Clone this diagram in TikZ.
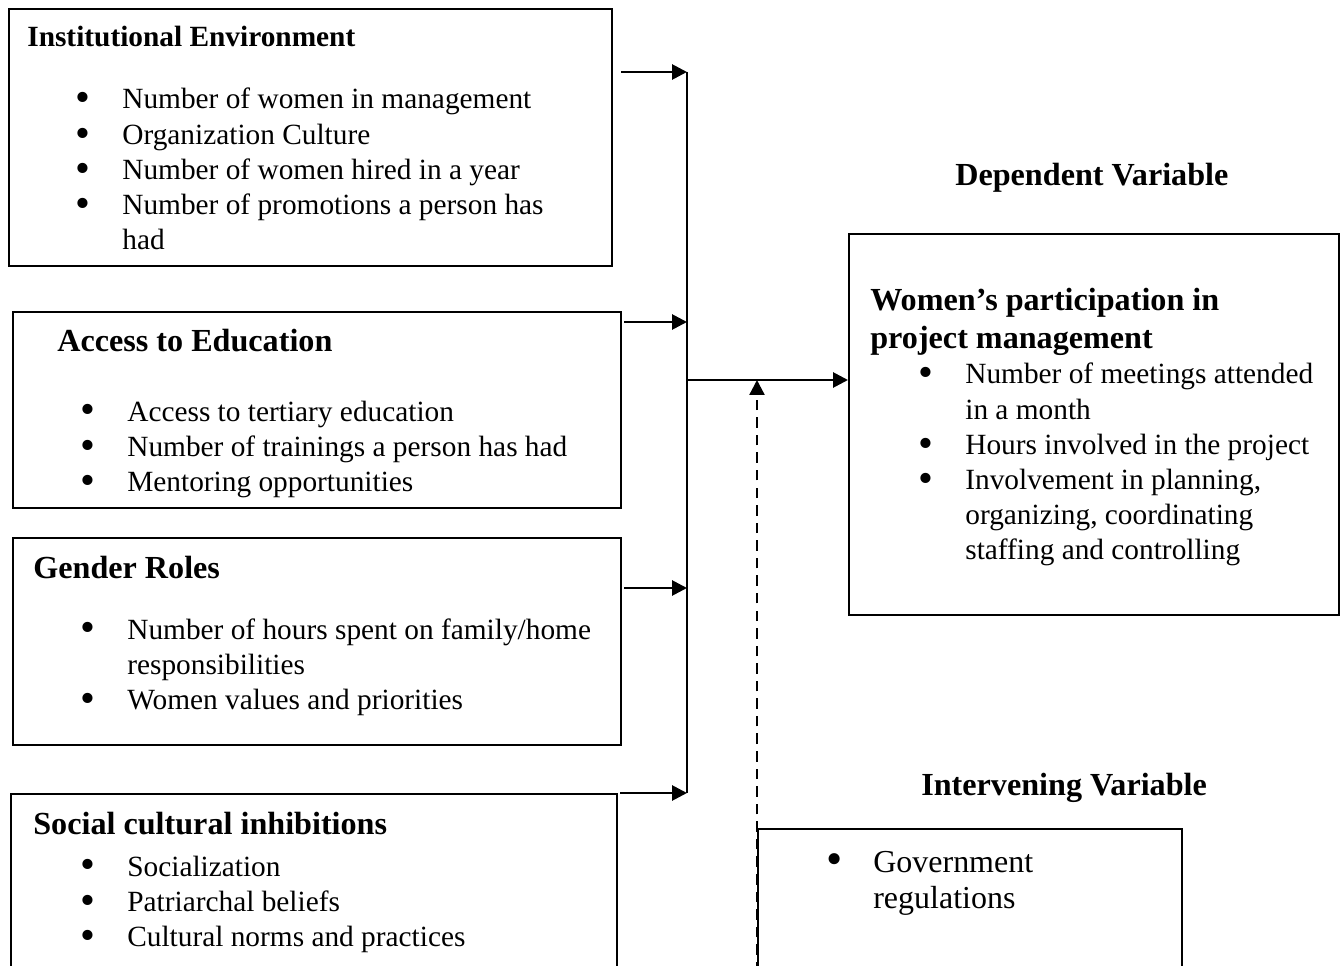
\documentclass[tikz,border=0pt]{standalone}
\usepackage{graphicx}
\usepackage{fontspec}
\setmainfont{Liberation Serif}
\usetikzlibrary{arrows.meta,positioning,calc}

\tikzset{
  box/.style={draw, line width=1.1pt, anchor=north west, inner sep=0pt},
  head/.style={anchor=base west, inner sep=0pt, font=\bfseries\fontsize{18.3}{21.8}\selectfont},
  lst/.style={anchor=base west, inner sep=0pt, font=\fontsize{16.7}{20}\selectfont},
  arr/.style={line width=1.6pt, -{Triangle[length=8.5pt,width=8.5pt]}},
  bus/.style={line width=1.1pt}
}
\newcommand{\bt}{\smash{\raisebox{-1.7pt}{\scalebox{1.45}{\textbullet}}}}

\begin{document}
\begin{tikzpicture}[x=0.02cm, y=-0.02cm]
\path[use as bounding box, clip] (0,0) rectangle (1340,966);
% independent variables
\node[box, minimum width=12.06cm, minimum height=5.14cm] (inst) at (8,8) {};
\node[box, minimum width=12.16cm, minimum height=3.92cm] (educ) at (12,311) {};
\node[box, minimum width=12.16cm, minimum height=4.14cm] (gend) at (12,537) {};
\node[box, minimum width=12.12cm, minimum height=4.5cm] (socl) at (10,793) {};
% dependent and intervening variables
\node[box, minimum width=9.8cm, minimum height=7.62cm] (part) at (848,233) {};
\node[box, minimum width=8.48cm, minimum height=4cm] (govt) at (757,828) {};

\node[head, font=\bfseries\fontsize{16.7}{20}\selectfont] (inst h) at (27,47) {Institutional Environment};
\node[lst] (inst l) at (75,109) {\begin{tabular}[t]{@{}p{0.94cm}@{}l@{}}
\bt & Number of women in management\\
\bt & Organization Culture\\
\bt & Number of women hired in a year\\
\bt & Number of promotions a person has\\
    & had
\end{tabular}};

\node[head] (educ h) at (57,352) {Access to Education};
\node[lst] (educ l) at (80,421) {\begin{tabular}[t]{@{}p{0.94cm}@{}l@{}}
\bt & Access to tertiary education\\
\bt & Number of trainings a person has had\\
\bt & Mentoring opportunities
\end{tabular}};

\node[head] (gend h) at (33,578) {Gender Roles};
\node[lst] (gend l) at (80,639) {\begin{tabular}[t]{@{}p{0.94cm}@{}l@{}}
\bt & Number of hours spent on family/home\\
    & responsibilities\\
\bt & Women values and priorities
\end{tabular}};

\node[head] (socl h) at (33,834) {Social cultural inhibitions};
\node[lst] (socl l) at (80,876) {\begin{tabular}[t]{@{}p{0.94cm}@{}l@{}}
\bt & Socialization\\
\bt & Patriarchal beliefs\\
\bt & Cultural norms and practices
\end{tabular}};

\node[head] (dep) at (955,186) {Dependent Variable};
\node[head, align=left] (part h) at (870,349) {Women’s participation in\\project management};
\node[lst] (part l) at (918,384) {\begin{tabular}[t]{@{}p{0.94cm}@{}l@{}}
\bt & Number of meetings attended\\
    & in a month\\
\bt & Hours involved in the project\\
\bt & Involvement in planning,\\
    & organizing, coordinating\\
    & staffing and controlling
\end{tabular}};

\node[head] (int) at (921,795) {Intervening Variable};
\node[lst, font=\fontsize{18.2}{20.7}\selectfont] (govt l) at (826,872) {\begin{tabular}[t]{@{}p{0.94cm}@{}l@{}}
\bt & Government\\
    & regulations
\end{tabular}};

% connectors
\coordinate (bus top) at (687,72);
\coordinate (bus bot) at (687,793);
\coordinate (join) at (687,380);
\coordinate (a1) at (621,72);
\coordinate (a2) at (624,322);
\coordinate (a3) at (624,588);
\coordinate (a4) at (620,793);
\coordinate (g0) at (757,990);
\draw[bus] (bus top) -- (bus bot);
\draw[arr] (a1) -- (bus top);
\draw[arr] (a2) -- (a2 -| bus top);
\draw[arr] (a3) -- (a3 -| bus top);
\draw[arr] (a4) -- (bus bot);
\draw[arr] (join) -- (join -| part.west);
\draw[arr, line width=1.3pt, dash pattern=on 6pt off 4pt] (g0) -- (g0 |- join);
\end{tikzpicture}
\end{document}
